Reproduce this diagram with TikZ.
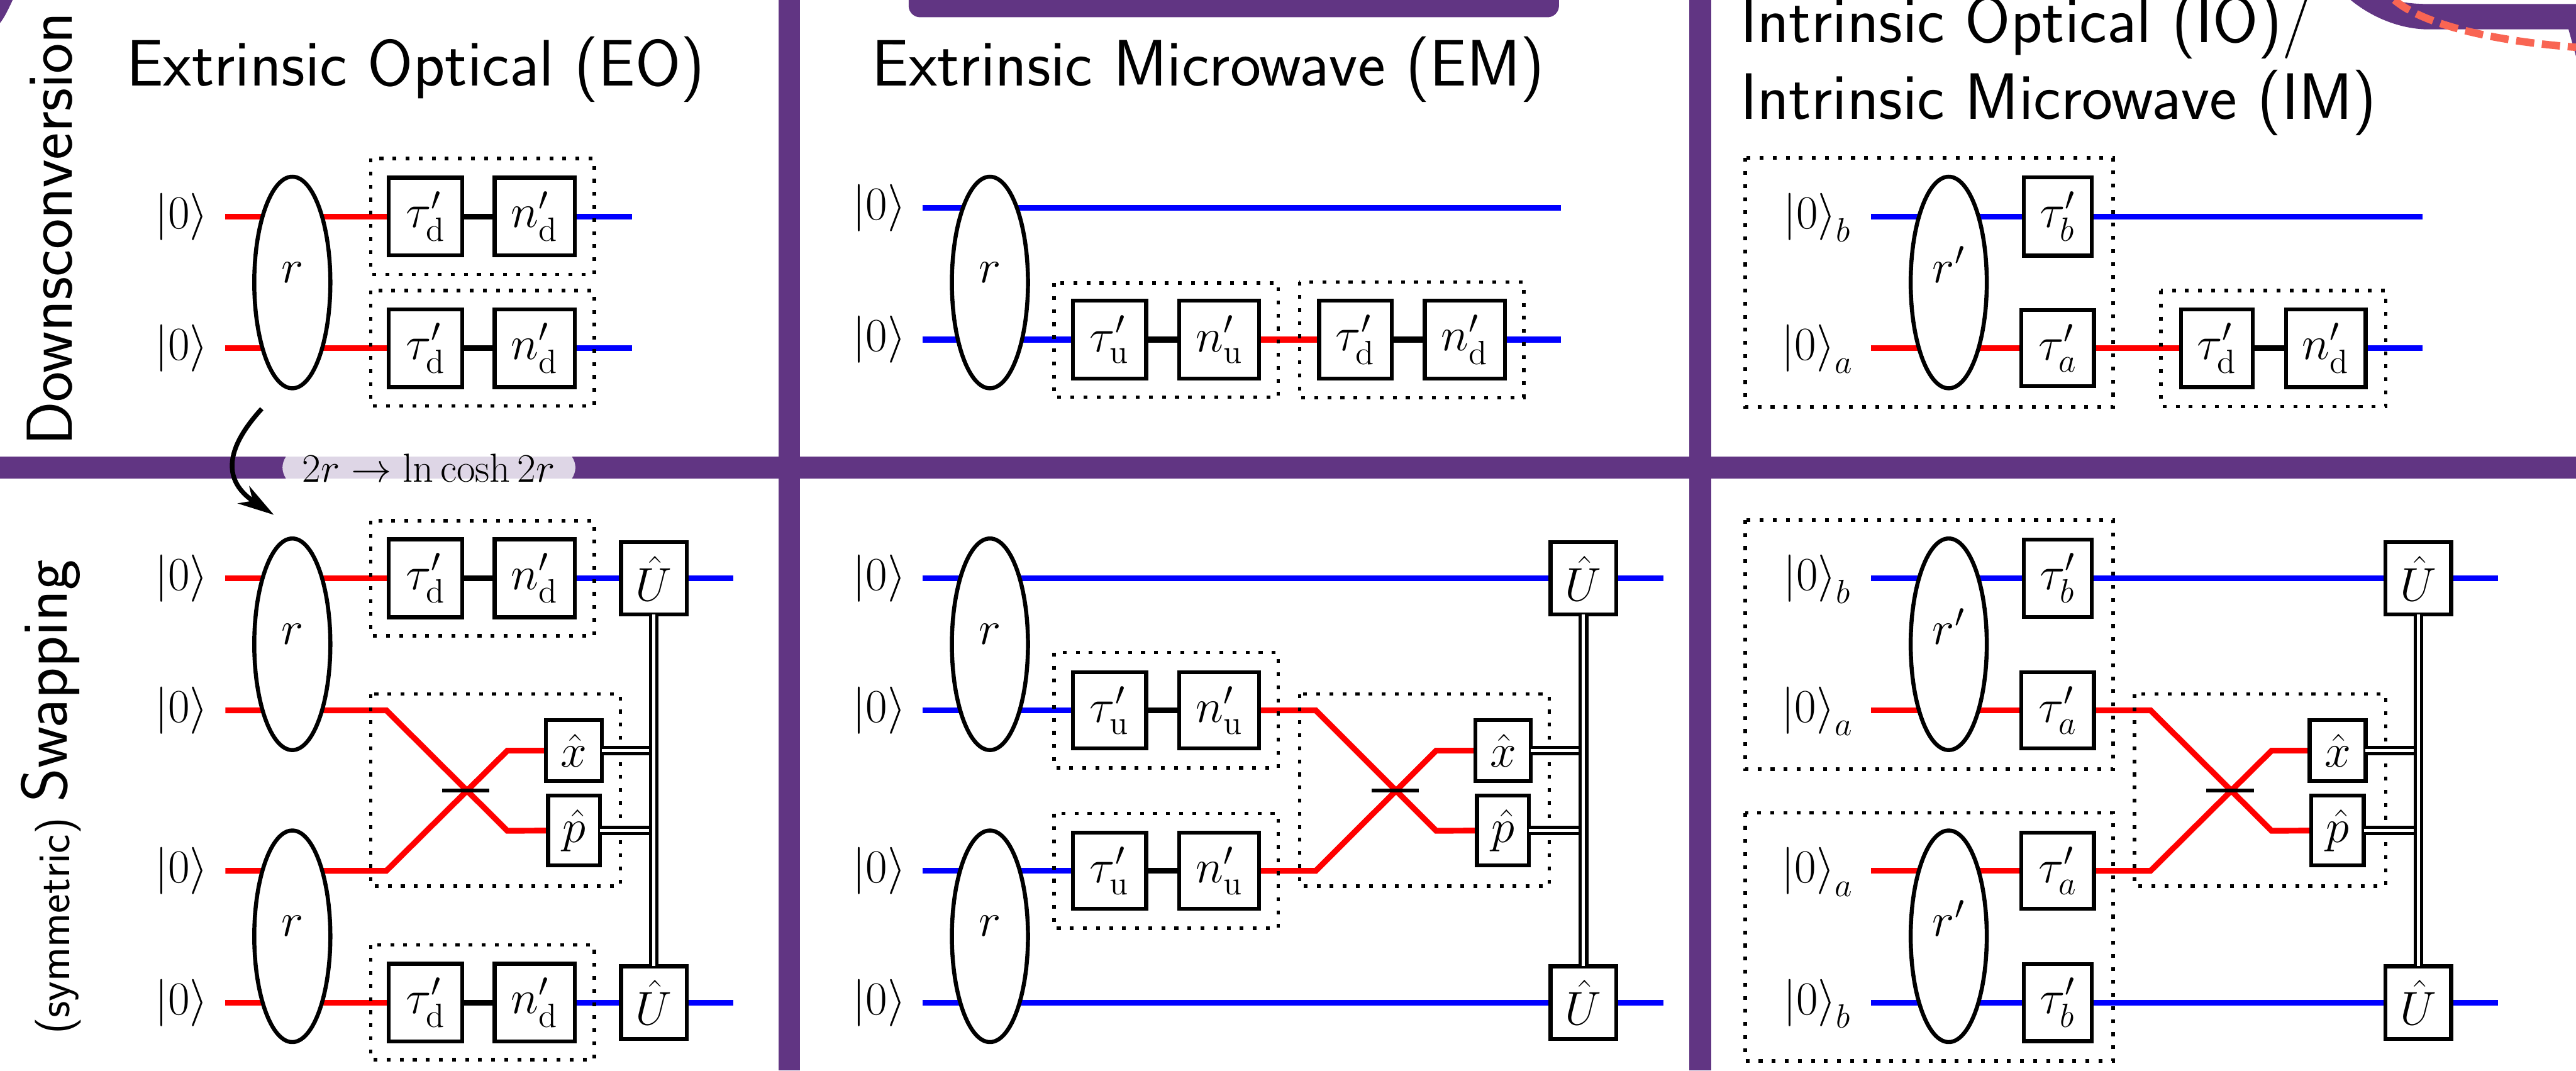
\documentclass[tikz,border=0pt]{standalone}
\usepackage{amsmath,amssymb}
\usepackage{fix-cm}
\usetikzlibrary{arrows.meta,backgrounds,calc,shapes.geometric}
\definecolor{qcpurple}{HTML}{613583}
\definecolor{qcpill}{HTML}{DED6E6}
\definecolor{qcsalmon}{HTML}{F96553}
\DeclareMathSizes{23.3}{23.3}{16.6}{12}
\DeclareMathSizes{20}{20}{14}{10}
\newcommand\qcfont{\fontsize{23.3}{28}\selectfont}
\newcommand\qctitle{\fontsize{32.4}{39}\selectfont\sffamily}
\newcommand\qczero{\left|0\right\rangle}
\tikzset{
 qc bar/.style={fill=qcpurple},
 qc gate/.style={draw=black,fill=white,line width=2pt,inner sep=0pt,outer sep=0pt,
                 font=\qcfont,minimum height=1.35cm},
 qc squeezer/.style={ellipse,draw=black,fill=white,line width=2pt,inner sep=0pt,outer sep=0pt,
                 font=\qcfont,minimum width=1.32cm,minimum height=3.67cm,
                 text height=20pt,text depth=20pt},
 qc ket/.style={font=\qcfont,inner sep=0pt,text height=17.5pt,text depth=5.8pt},
 qc title/.style={font=\qctitle,anchor=base west,inner sep=0pt},
 qc side/.style={font=\fontsize{32}{38}\selectfont\sffamily,anchor=base west,inner sep=0pt,rotate=90},
 qc red/.style={draw=red,line width=2.85pt},
 qc blue/.style={draw=blue,line width=2.85pt},
 qc link/.style={draw=black,line width=2.85pt},
 qc bs/.style={draw=black,line width=1.7pt},
 qc classical/.style={draw=black,line width=1.6pt,double=white,double distance=1.6pt},
 qc frame/.style={draw=black,line width=1.7pt,dash pattern=on 1.9pt off 4.55pt}
}
\begin{document}
\begin{tikzpicture}
 \useasboundingbox (0,0) rectangle (44.68,-18.57);
 \fill[qc bar] (0,-7.92) rectangle (44.68,-8.30);
 \foreach \x in {13.50,29.30}{\fill[qc bar] (\x,0) rectangle (\x+.38,-18.57);}
 \fill[qc bar,rounded corners=.2cm] (15.76,.5) rectangle (27.04,-.30);
 \fill[qc bar] (0,0)--(.22,0) .. controls (.15,-.15) and (.08,-.30) .. (0,-.40)--cycle;
 \fill[qc bar] (40.77,0) .. controls (41.20,-.35) and (41.70,-.51) .. (42.13,-.51)
   --(44.55,-.51)--(44.68,-.98)--(44.68,-.07)--(42.13,-.07)
   .. controls (41.85,-.07) and (41.65,-.04) .. (41.53,0)--cycle;
 \draw[draw=qcsalmon,line width=3.7pt,dash pattern=on 9pt off 3.8pt]
   (41.53,0) .. controls (41.90,-.32) and (42.85,-.68) .. (44.68,-.82);

 \node[qc title] (eotitle) at (2.19,-1.49) {Extrinsic Optical (EO)};
 \node[qc title] (emtitle) at (15.12,-1.49) {Extrinsic Microwave (EM)};
 \node[qc title] (iotitle) at (30.18,-.735) {Intrinsic Optical (IO)/};
 \node[qc title] (imtitle) at (30.18,-2.066) {Intrinsic Microwave (IM)};
 \node[qc side] (downlabel) at (1.25,-7.74) {Downsconversion};
 \node[qc side] (swaplabel) at (1.16,-13.92) {Swapping};
 \node[qc side,font=\fontsize{22.6}{27}\selectfont\sffamily] (symlabel) at (1.20,-17.95) {(symmetric)};

 \foreach \pn/\x/\lab in {eo/5.07/r,em/17.17/r,io/33.80/r'}{
   \foreach \r/\y in {1/-4.90,2/-11.175,3/-16.24}{
     \node[qc squeezer] (\pn R\r) at (\x,\y) {$\lab$};
   }
 }

 \foreach \r/\y in {1/-3.755,2/-6.04,3/-10.03,4/-17.39}{
   \coordinate (eoI\r) at (3.91,\y);
   \node[qc ket] (eoK\r) at (3.15,\y) {$\qczero$};
   \node[qc gate,minimum width=1.28cm] (eoT\r) at (7.38,\y) {$\tau'_{\mathrm{d}}$};
   \node[qc gate,minimum width=1.39cm] (eoN\r) at (9.275,\y) {$n'_{\mathrm{d}}$};
   \begin{scope}[on background layer]
     \draw[qc red] (eoI\r)--(eoT\r);
     \draw[qc link] (eoT\r)--(eoN\r);
   \end{scope}
 }
 \foreach \r/\y in {5/-12.32,6/-15.105}{
   \coordinate (eoI\r) at (3.91,\y);
   \node[qc ket] (eoK\r) at (3.15,\y) {$\qczero$};
 }
 \foreach \r/\y in {1/-3.755,2/-6.04}{
   \coordinate (eoE\r) at (10.96,\y);
   \begin{scope}[on background layer]
     \draw[qc blue] (eoN\r)--(eoE\r);
   \end{scope}
 }
 \foreach \a/\b/\c/\d in {6.43/2.75/10.31/4.76,6.43/5.04/10.31/7.04,6.43/9.03/10.31/11.03,
                          6.43/16.39/10.31/18.38}{
   \draw[qc frame] (\a,-\b) rectangle (\c,-\d);
 }

 \foreach \r/\y in {1/-3.605,2/-5.89,3/-10.03,4/-12.32,5/-15.105,6/-17.39}{
   \coordinate (emI\r) at (16.00,\y);
   \node[qc ket] (emK\r) at (15.25,\y) {$\qczero$};
 }
 \coordinate (emE1) at (27.07,-3.605);
 \coordinate (emE2) at (27.07,-5.89);
 \node[qc gate,minimum width=1.27cm] (emTu) at (19.245,-5.89) {$\tau'_{\mathrm{u}}$};
 \node[qc gate,minimum width=1.39cm] (emNu) at (21.145,-5.89) {$n'_{\mathrm{u}}$};
 \node[qc gate,minimum width=1.26cm] (emTd) at (23.51,-5.89) {$\tau'_{\mathrm{d}}$};
 \node[qc gate,minimum width=1.39cm] (emNd) at (25.405,-5.89) {$n'_{\mathrm{d}}$};
 \foreach \r/\y in {4/-12.32,5/-15.105}{
   \node[qc gate,minimum width=1.27cm,minimum height=1.32cm] (emT\r) at (19.245,\y) {$\tau'_{\mathrm{u}}$};
   \node[qc gate,minimum width=1.39cm,minimum height=1.32cm] (emN\r) at (21.145,\y) {$n'_{\mathrm{u}}$};
   \begin{scope}[on background layer]
     \draw[qc blue] (emI\r)--(emT\r);
     \draw[qc link] (emT\r)--(emN\r);
   \end{scope}
 }
 \begin{scope}[on background layer]
   \draw[qc blue] (emI1)--(emE1);
   \draw[qc blue] (emI2)--(emTu);
   \draw[qc link] (emTu)--(emNu);
   \draw[qc red] (emNu)--(emTd);
   \draw[qc link] (emTd)--(emNd);
   \draw[qc blue] (emNd)--(emE2);
 \end{scope}
 \foreach \a/\b/\c/\d in {18.28/4.91/22.17/6.89,22.54/4.89/26.43/6.90,18.28/11.32/22.17/13.32,
                          18.28/14.11/22.17/16.10}{
   \draw[qc frame] (\a,-\b) rectangle (\c,-\d);
 }

 \foreach \r/\y/\s in {1/-3.755/b,2/-6.04/a,3/-10.03/b,4/-12.32/a,5/-15.105/a,6/-17.39/b}{
   \coordinate (ioI\r) at (32.45,\y);
   \node[qc ket] (ioK\r) at (31.52,\y) {$\qczero_{\s}$};
 }
 \foreach \r/\y/\s/\w/\h in {1/-3.755/b/1.18/1.36,2/-6.04/a/1.26/1.32,3/-10.03/b/1.18/1.34,
                             4/-12.32/a/1.26/1.32,5/-15.105/a/1.26/1.32,6/-17.39/b/1.18/1.34}{
   \node[qc gate,minimum width=\w cm,minimum height=\h cm] (ioT\r) at (35.69,\y) {$\tau'_{\s}$};
 }
 \coordinate (ioE1) at (42.02,-3.755);
 \coordinate (ioE2) at (42.02,-6.04);
 \node[qc gate,minimum width=1.24cm] (ioTd) at (38.45,-6.04) {$\tau'_{\mathrm{d}}$};
 \node[qc gate,minimum width=1.38cm] (ioNd) at (40.34,-6.04) {$n'_{\mathrm{d}}$};
 \begin{scope}[on background layer]
   \draw[qc blue] (ioI1)--(ioT1);
   \draw[qc blue] (ioT1)--(ioE1);
   \draw[qc red] (ioI2)--(ioT2);
   \draw[qc red] (ioT2)--(ioTd);
   \draw[qc link] (ioTd)--(ioNd);
   \draw[qc blue] (ioNd)--(ioE2);
   \draw[qc blue] (ioI3)--(ioT3);
   \draw[qc red] (ioI4)--(ioT4);
   \draw[qc red] (ioI5)--(ioT5);
   \draw[qc blue] (ioI6)--(ioT6);
 \end{scope}
 \foreach \a/\b/\c/\d in {30.27/2.74/36.65/7.06,37.48/5.04/41.38/7.05,30.27/9.02/36.65/13.34,
                          30.27/14.10/36.65/18.40}{
   \draw[qc frame] (\a,-\b) rectangle (\c,-\d);
 }

 \foreach \pn/\fa/\fb/\xa/\xb/\xs/\xm/\wx/\wp/\xu/\xe/\xl/\xr in {
     eo/eoI5/eoI6/6.70/8.80/8.08/9.955/.97/.90/11.34/12.72/6.43/10.76,
     em/emN4/emN5/22.82/24.91/24.20/26.07/.96/.90/27.465/28.85/22.54/26.87,
     io/ioT4/ioT5/37.30/39.40/38.68/40.545/.97/.91/41.945/43.33/37.02/41.38}{
   \coordinate (\pn A2) at (\xa,-12.32);
   \coordinate (\pn A3) at (\xa,-15.105);
   \coordinate (\pn B2) at (\xb,-13.02);
   \coordinate (\pn B3) at (\xb,-14.41);
   \coordinate (\pn S) at (\xs,-13.71);
   \coordinate (\pn E1) at (\xe,-10.03);
   \coordinate (\pn E4) at (\xe,-17.39);
   \node[qc gate,minimum width=\wx cm,minimum height=1.06cm] (\pn X) at (\xm,-13.02) {$\hat{x}$};
   \node[qc gate,minimum width=\wp cm,minimum height=1.21cm] (\pn P) at (\xm,-14.405) {$\hat{p}$};
   \node[qc gate,minimum width=1.14cm,minimum height=1.26cm] (\pn U1) at (\xu,-10.03) {$\hat{U}$};
   \node[qc gate,minimum width=1.14cm,minimum height=1.26cm] (\pn U4) at (\xu,-17.39) {$\hat{U}$};
   \begin{scope}[on background layer]
     \draw[qc red] (\fa)--(\pn A2)--(\pn B3)--(\pn P);
     \draw[qc red] (\fb)--(\pn A3)--(\pn B2)--(\pn X);
     \draw[qc blue] (\pn U1)--(\pn E1);
     \draw[qc blue] (\pn U4)--(\pn E4);
   \end{scope}
   \draw[qc bs] ($(\pn S)+(-.41,0)$)--($(\pn S)+(.41,0)$);
   \draw[qc frame] (\xl,-12.04) rectangle (\xr,-15.37);
   \draw[qc classical] (\pn X)--(\pn X -| \pn U1);
   \draw[qc classical] (\pn P)--(\pn P -| \pn U1);
   \draw[qc classical] (\pn U1)--(\pn U4);
 }
 \begin{scope}[on background layer]
   \draw[qc blue] (eoN3)--(eoU1);
   \draw[qc blue] (eoN4)--(eoU4);
   \draw[qc blue] (emI3)--(emU1);
   \draw[qc blue] (emI6)--(emU4);
   \draw[qc blue] (ioT3)--(ioU1);
   \draw[qc blue] (ioT6)--(ioU4);
 \end{scope}

 \fill[qcpill] (4.96,-7.92) .. controls (4.88,-8.05) and (4.88,-8.17) .. (4.96,-8.30)
   --(9.92,-8.30) .. controls (10.00,-8.17) and (10.00,-8.05) .. (9.92,-7.92)--cycle;
 \node[font=\fontsize{20}{24}\selectfont,inner sep=0pt] (mapping) at (7.435,-8.115)
   {$2r\to\ln\cosh 2r$};
 \coordinate (bendA) at (4.54,-7.09);
 \coordinate (bendB) at (4.75,-8.93);
 \draw[line width=2.3pt,-{Stealth[length=.63cm,width=.36cm,inset=.19cm]}]
   (bendA) .. controls (3.80,-7.90) and (3.95,-8.40) .. (bendB);
\end{tikzpicture}
\end{document}
